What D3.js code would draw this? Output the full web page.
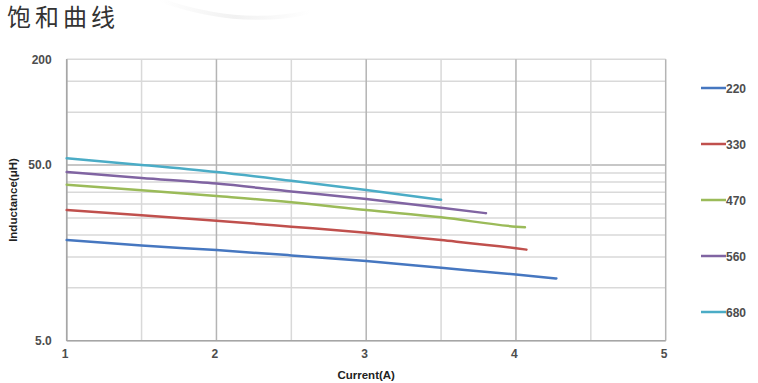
<!DOCTYPE html>
<html><head><meta charset="utf-8">
<script src="https://cdn.jsdelivr.net/npm/d3@7"></script>
<style>
html,body{margin:0;padding:0;background:#fff;}
svg{display:block;}
</style></head>
<body>
<script>
const titleText = "饱和曲线";
const xLabel = "Current(A)";
const yLabel = "Inductance(μH)";
const seriesNames = ["220","330","470","560","680"];
const seriesColors = ["#4677c0","#c0504d","#9bbb59","#8064a2","#4bacc6"];
const xTicks = [1,2,3,4,5];
const xGrid = [1,1.5,2,2.5,3,3.5,4,4.5,5];
const yGrid = [5,10,15,20,25,30,35,40,45,50,100,150,200];
const yTickValues = [5,50,200];
const yTickLabels = ["5.0","50.0","200"];

const current220 = [1,1.5,2,2.5,3,3.5,4,4.27];
const induct220  = [18.7,17.4,16.4,15.3,14.2,13.0,11.9,11.3];
const current330 = [1,1.5,2,2.5,3,3.5,4,4.07];
const induct330  = [27.7,25.9,24.1,22.3,20.6,18.7,16.8,16.5];
const current470 = [1,1.5,2,2.5,3,3.5,4,4.06];
const induct470  = [38.6,35.9,33.3,30.7,27.7,25.2,22.3,22.1];
const current560 = [1,1.5,2,2.5,3,3.5,3.8];
const induct560  = [45.6,42.2,39.2,35.4,32.0,28.6,26.6];
const current680 = [1,1.5,2,2.5,3,3.5];
const induct680  = [54.6,50.1,45.6,40.7,36.1,31.7];

const seriesX = [current220,current330,current470,current560,current680];
const seriesY = [induct220,induct330,induct470,induct560,induct680];

const W = 758, H = 383;
const svg = d3.select("body").append("svg").attr("width",W).attr("height",H);
svg.append("rect").attr("width",W).attr("height",H).attr("fill","#fff");

// faint decorative swoosh
const defs = svg.append("defs");
const grad = defs.append("linearGradient").attr("id","sw").attr("x1","0").attr("x2","1");
grad.append("stop").attr("offset","0").attr("stop-color","#fff");
grad.append("stop").attr("offset","0.5").attr("stop-color","#eeeeee");
grad.append("stop").attr("offset","1").attr("stop-color","#fff");
svg.append("path").attr("d","M160,0 Q240,28 310,12").attr("fill","none")
  .attr("stroke","url(#sw)").attr("stroke-width",4).attr("opacity",0.8);

svg.append("text").attr("x",7).attr("y",26)
  .attr("font-family","'Noto Sans CJK SC', sans-serif").attr("font-size",24)
  .attr("letter-spacing",4).attr("fill","#333").text(titleText);

const x = d3.scaleLinear().domain([1,5]).range([66.7,665.7]);
const y = d3.scaleLog().domain([5,200]).range([340.7,59.3]);

const g = svg.append("g");
// grid
g.selectAll(".hg").data(yGrid).join("line")
  .attr("x1",x(1)).attr("x2",x(5)).attr("y1",d=>y(d)).attr("y2",d=>y(d))
  .attr("stroke",d=>d===50?"#b4b4b4":"#d9d9d9").attr("stroke-width",1.5);
g.selectAll(".vg").data(xGrid).join("line")
  .attr("y1",y(5)).attr("y2",y(200)).attr("x1",d=>x(d)).attr("x2",d=>x(d))
  .attr("stroke",d=>Number.isInteger(d)?"#b4b4b4":"#d9d9d9").attr("stroke-width",1.5);
// axes lines
g.append("line").attr("x1",x(1)).attr("x2",x(1)).attr("y1",y(5)).attr("y2",y(200)).attr("stroke","#a6a6a6").attr("stroke-width",1.5);
g.append("line").attr("x1",x(1)).attr("x2",x(5)).attr("y1",y(5)).attr("y2",y(5)).attr("stroke","#a6a6a6").attr("stroke-width",1.5);

const fontAx = "'Liberation Sans', Arial, sans-serif";
const xAxis = svg.append("g").attr("transform",`translate(0,${y(5)})`)
  .call(d3.axisBottom(x).tickValues(xTicks).tickSize(0).tickPadding(9).tickFormat(d3.format("d")));
xAxis.select(".domain").remove();
xAxis.selectAll("text").attr("font-family",fontAx).attr("font-size",12).attr("font-weight","bold").attr("fill","#4d4d4d").attr("dx",-2);

const yAxis = svg.append("g").attr("transform",`translate(${x(1)},0)`)
  .call(d3.axisLeft(y).tickValues(yTickValues).tickSize(0).tickPadding(15)
    .tickFormat(d=>yTickLabels[yTickValues.indexOf(d)]));
yAxis.select(".domain").remove();
yAxis.selectAll("text").attr("font-family",fontAx).attr("font-size",12).attr("font-weight","bold").attr("fill","#4d4d4d");

svg.append("text").attr("x",(x(1)+x(5))/2).attr("y",379).attr("text-anchor","middle")
  .attr("font-family",fontAx).attr("font-size",11.5).attr("font-weight","bold").attr("fill","#222").text(xLabel);
svg.append("text").attr("transform","translate(17,200) rotate(-90)").attr("text-anchor","middle")
  .attr("font-family",fontAx).attr("font-size",11.5).attr("font-weight","bold").attr("fill","#222").text(yLabel);

// lines
const line = d3.line().x(d=>x(d[0])).y(d=>y(d[1])).curve(d3.curveMonotoneX);
seriesNames.forEach((n,i)=>{
  const pts = seriesX[i].map((c,j)=>[c,seriesY[i][j]]);
  svg.append("path").attr("d",line(pts)).attr("fill","none")
    .attr("stroke",seriesColors[i]).attr("stroke-width",2.5).attr("stroke-linecap","round");
});

// legend
const ly = d3.scalePoint().domain(seriesNames).range([88,312]);
const lg = svg.append("g");
seriesNames.forEach((n,i)=>{
  lg.append("line").attr("x1",701).attr("x2",726).attr("y1",ly(n)).attr("y2",ly(n))
    .attr("stroke",seriesColors[i]).attr("stroke-width",2.5);
  lg.append("text").attr("x",726).attr("y",ly(n)+4.5).attr("font-family",fontAx)
    .attr("font-size",12).attr("font-weight","bold").attr("fill","#4d4d4d").text(n);
});
</script>
</body></html>
